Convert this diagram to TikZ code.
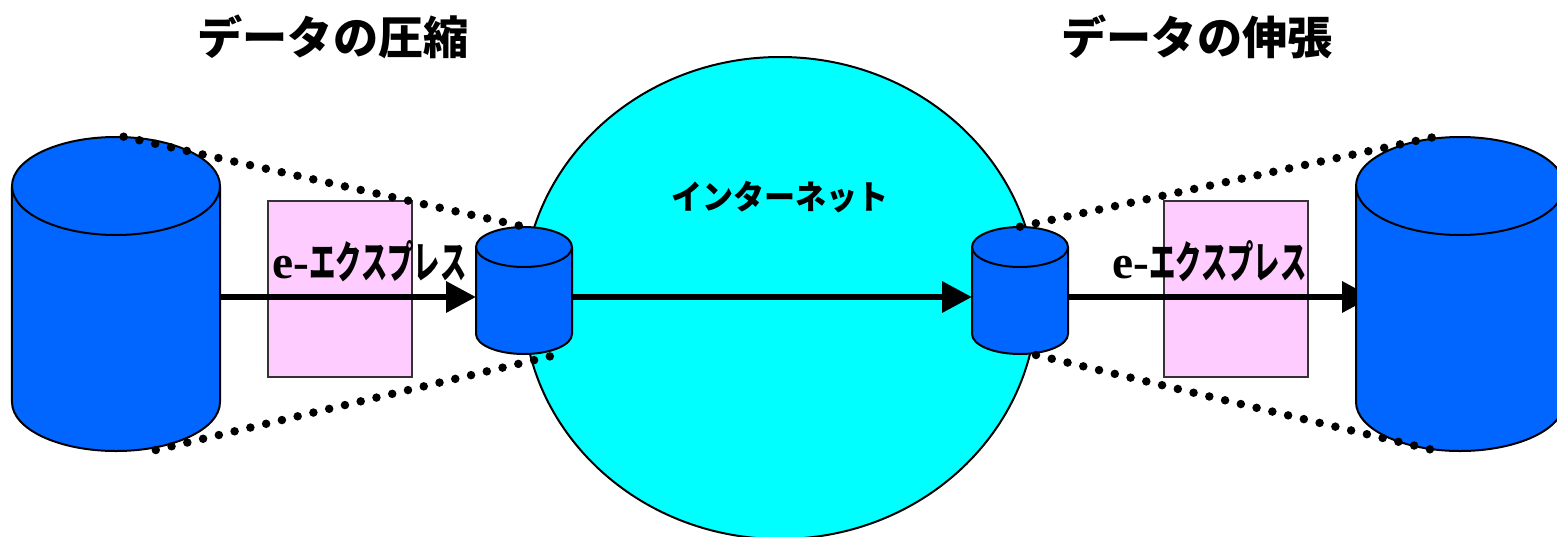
\documentclass[tikz,border=0pt]{standalone}
\usepackage{fontspec}
\setmainfont{Liberation Serif}
\newfontfamily\jpfont{Noto Sans CJK JP}
\usetikzlibrary{arrows.meta,shapes.geometric}
\definecolor{storeblue}{HTML}{0066FF}
\definecolor{codecpink}{HTML}{FFCCFF}
\definecolor{netcyan}{HTML}{00FFFF}
\tikzset{
  store/.style={inner sep=0pt,outer sep=0pt},
  bigstore/.style={store,minimum width=41.6mm,minimum height=62.8mm},
  smallstore/.style={store,minimum width=19.2mm,minimum height=25.4mm},
  drumskin/.style={draw=black,line width=0.4mm,fill=storeblue,line join=round},
  codec/.style={draw=black!80,line width=0.4mm,fill=codecpink,minimum width=28.8mm,minimum height=35.2mm,
    inner sep=0pt,outer sep=0pt},
  flow/.style={line width=1.3mm,-{Triangle[length=6mm,width=6mm]}},
  zoomline/.style={line width=1.7mm,line cap=round,dash pattern=on 0pt off 3.24mm},
  heading/.style={font=\jpfont\bfseries\fontsize{25.7}{26}\selectfont,inner sep=0pt},
  netlabel/.style={font=\jpfont\bfseries\fontsize{19}{19}\selectfont,inner sep=0pt,xscale=0.93},
  mail/.style={font=\bfseries\fontsize{27}{27}\selectfont,inner sep=0pt,anchor=base west},
}
\newcommand{\mailname}{e-{\jpfont\fontsize{25}{25}\selectfont\scalebox{0.6}[1]{エクスプレス}}}
% #1 node, #2 x radius, #3 y radius of the end caps
\newcommand{\drum}[3]{
  \path (#1.north west) ++(0,#3) coordinate (#1tl);
  \path (#1.north east) ++(0,#3) coordinate (#1tr);
  \path (#1.south west) ++(0,-#3) coordinate (#1bl);
  \draw[drumskin] (#1tl) -- (#1bl) arc[start angle=180,end angle=0,x radius=#2,y radius=#3]
    -- (#1tr) arc[start angle=0,end angle=-180,x radius=#2,y radius=#3] -- cycle;
  \draw[drumskin,fill=none] (#1tl) arc[start angle=180,end angle=0,x radius=#2,y radius=#3];
}
\begin{document}
\begin{tikzpicture}[x=0.2mm,y=-0.2mm]
\useasboundingbox (0,0) rectangle (1557,536);
% network
\node[draw=black,line width=0.4mm,fill=netcyan,ellipse,minimum width=102.8mm,minimum height=96.4mm,inner sep=0pt] (net) at (780,298) {};
\node[netlabel] (netname) at (780,197) {インターネット};
% headings
\node[heading] (packtitle) at (333,37) {データの圧縮};
\node[heading] (unpacktitle) at (1197,37) {データの伸張};
% codec boxes
\node[codec] (boxL) at (340,289) {};
\node[codec] (boxR) at (1236,289) {};
% height of the data flow
\coordinate (lev) at (0,297);
% stores
\node[smallstore] (siteB) at (524,290.5) {};
\node[smallstore] (siteC) at (1020,290.5) {};
\node[bigstore] (siteA) at (116,294) {};
\node[bigstore] (siteD) at (1460,294) {};
% data flow
\draw[flow] (siteA.east |- lev) -- (siteB.west |- lev);
\draw[flow] (siteB.east |- lev) -- (siteC.west |- lev);
\draw[flow] (siteC.east |- lev) -- (siteD.west |- lev) -- ++(16,0);
\drum{siteA}{104}{49}
\drum{siteB}{48}{20}
\drum{siteC}{48}{20}
\drum{siteD}{104}{49}
% labels on the flow
\node[mail] (mailL) at (272,278) {\mailname};
\node[mail] (mailR) at (1112,278) {\mailname};
% dotted outlines
\coordinate (aN) at (123.6,136.7);
\coordinate (aS) at (155.8,450);
\coordinate (bN) at (521,226);
\coordinate (bS) at (551.5,356);
\coordinate (cN) at (1020,226.7);
\coordinate (cS) at (1036,355);
\coordinate (dN) at (1434,137);
\coordinate (dS) at (1431.6,449.7);
\draw[zoomline] (aN) -- (bN);
\draw[zoomline] (aS) -- (bS);
\draw[zoomline] (cN) -- (dN);
\draw[zoomline] (cS) -- (dS);
\end{tikzpicture}
\end{document}
